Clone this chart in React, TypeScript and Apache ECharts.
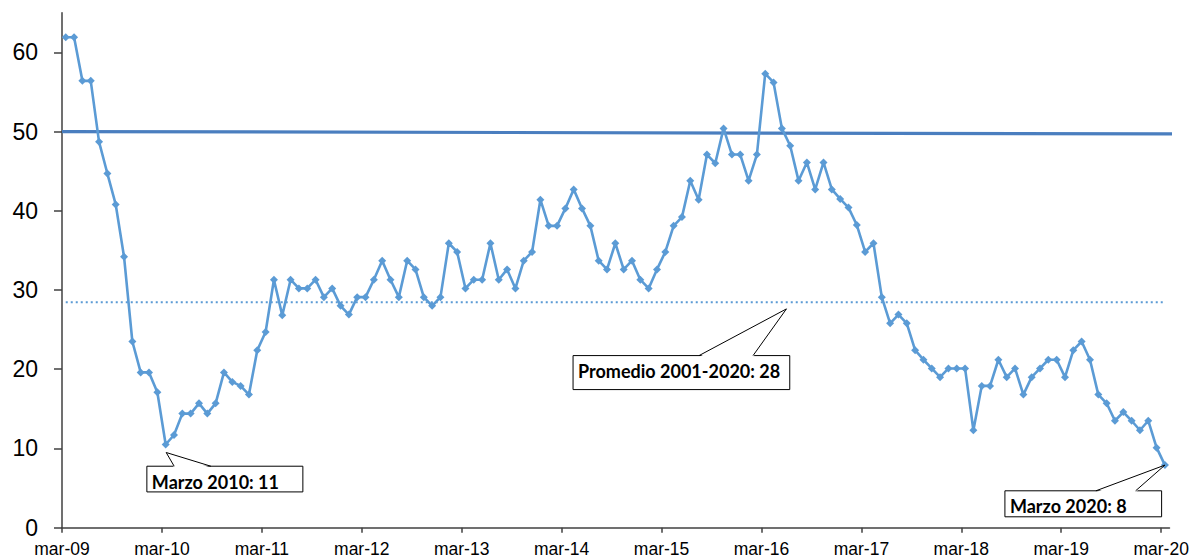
import React, { useEffect, useRef } from 'react';
import * as echarts from 'echarts';

const tickLabels = ['mar-09', 'mar-10', 'mar-11', 'mar-12', 'mar-13', 'mar-14', 'mar-15', 'mar-16', 'mar-17', 'mar-18', 'mar-19', 'mar-20'];

// monthly values, mar-09 .. mar-20
const values = [
  61.9, 61.9, 56.4, 56.4, 48.7, 44.7, 40.8, 34.2, 23.5, 19.6, 19.6, 17.1,
  10.5, 11.7, 14.4, 14.4, 15.7, 14.4, 15.7, 19.6, 18.4, 17.9, 16.8, 22.4,
  24.7, 31.3, 26.8, 31.3, 30.2, 30.2, 31.3, 29.1, 30.2, 28.0, 26.9, 29.1,
  29.1, 31.3, 33.7, 31.3, 29.1, 33.7, 32.6, 29.1, 28.0, 29.1, 35.9, 34.8,
  30.2, 31.3, 31.3, 35.9, 31.3, 32.6, 30.2, 33.7, 34.8, 41.4, 38.1, 38.1,
  40.3, 42.7, 40.3, 38.1, 33.7, 32.6, 35.9, 32.6, 33.7, 31.3, 30.2, 32.6,
  34.8, 38.1, 39.2, 43.8, 41.4, 47.1, 46.0, 50.4, 47.1, 47.1, 43.8, 47.1,
  57.3, 56.2, 50.4, 48.2, 43.8, 46.1, 42.7, 46.1, 42.7, 41.5, 40.4, 38.2,
  34.8, 35.9, 29.1, 25.8, 26.9, 25.8, 22.4, 21.2, 20.1, 19.0, 20.1, 20.1,
  20.1, 12.3, 17.9, 17.9, 21.2, 19.0, 20.1, 16.8, 19.0, 20.1, 21.2, 21.2,
  19.0, 22.4, 23.5, 21.2, 16.8, 15.7, 13.5, 14.6, 13.5, 12.3, 13.5, 10.1,
  7.9,
];

const averageValue = 28.45;
const thresholdValues = [50.0, 49.7];
const yTicks = [0, 10, 20, 30, 40, 50, 60];

const calloutTexts = ['Marzo 2010: 11', 'Promedio 2001-2020: 28', 'Marzo 2020: 8'];
const calloutIndex = [12, 87, 132];

const X_OFFSET = 0.45;

export default function App() {
  const ref = useRef<HTMLDivElement>(null);

  useEffect(() => {
    const chart = echarts.init(ref.current as HTMLDivElement, null, { renderer: 'svg' });
    const months = values.length;
    const categories = Array.from({ length: months + 1 }, (_, i) => (i % 12 === 0 ? tickLabels[i / 12] : ''));
    const axisColor = '#404040';
    const labelFont = '"Liberation Sans", Arial, sans-serif';

    chart.setOption({
      animation: false,
      backgroundColor: '#ffffff',
      grid: { left: 62, right: 29.5, top: 12.7, bottom: 32.3, containLabel: false },
      xAxis: [
        { type: 'value', min: 0, max: months, show: false, position: 'bottom' },
        {
          type: 'category',
          data: categories,
          boundaryGap: false,
          position: 'bottom',
          axisLine: { lineStyle: { color: axisColor, width: 1.5 } },
          axisTick: { interval: 11, length: 5, lineStyle: { color: axisColor, width: 1.5 } },
          axisLabel: {
            interval: 11,
            color: '#000',
            fontFamily: labelFont,
            fontSize: 17.5,
            margin: 12,
          },
          splitLine: { show: false },
        },
      ],
      yAxis: {
        type: 'value',
        min: 0,
        max: 65,
        interval: 10,
        axisLine: { show: true, lineStyle: { color: axisColor, width: 1.5 } },
        axisTick: { show: true, inside: false, length: 8, customValues: yTicks, lineStyle: { color: axisColor, width: 1.5 } },
        axisLabel: {
          customValues: yTicks,
          formatter: (v: number) => (v % 10 === 0 && v <= 60 ? String(v) : ''),
          color: '#000',
          fontFamily: labelFont,
          fontSize: 23,
          margin: 24,
        },
        splitLine: { show: false },
      },
      series: [
        {
          type: 'line',
          xAxisIndex: 0,
          data: [[0, thresholdValues[0]], [months + 0.35, thresholdValues[1]]],
          clip: false,
          symbol: 'none',
          lineStyle: { color: '#4A7EBF', width: 3.2 },
          z: 2,
        },
        {
          type: 'line',
          xAxisIndex: 0,
          data: [[X_OFFSET, averageValue], [months - 1 + X_OFFSET - 0.2, averageValue]],
          symbol: 'none',
          lineStyle: { color: '#5B9BD5', width: 2, type: [2, 3] },
          z: 2,
        },
        {
          type: 'line',
          xAxisIndex: 0,
          data: values.map((v, i) => [i + X_OFFSET, v]),
          symbol: 'diamond',
          symbolSize: 8,
          itemStyle: { color: '#5B9BD5' },
          lineStyle: { color: '#5B9BD5', width: 2.6 },
          z: 3,
        },
      ],
    });

    const px = (x: number, y: number) => chart.convertToPixel({ seriesIndex: 2 }, [x, y]) as number[];

    // layout of the callouts relative to their anchor point (pixels)
    const layouts = [
      { anchor: [calloutIndex[0] + X_OFFSET, values[calloutIndex[0]]], apex: [0.5, 8], box: [-19.3, 13.7, 156, 25.7], legs: [8, 44.7] },
      { anchor: [calloutIndex[1], averageValue], apex: [0, 6.6], box: [-213.4, 46.7, 216.7, 34], legs: [-87.4, -33.4] },
      { anchor: [calloutIndex[2] + X_OFFSET, values[calloutIndex[2]]], apex: [0, 0], box: [-160, 25.7, 156.7, 26], legs: [-69, -29.3] },
    ];

    const elements: any[] = [];
    layouts.forEach((l, k) => {
      const p = px(l.anchor[0], l.anchor[1]);
      const ax = p[0] + l.apex[0];
      const ay = p[1] + l.apex[1];
      const L = ax + l.box[0];
      const T = ay + l.box[1];
      const W = l.box[2];
      const H = l.box[3];
      const l1 = ax + l.legs[0];
      const l2 = ax + l.legs[1];
      elements.push({
        type: 'rect',
        z: 100,
        shape: { x: L, y: T, width: W, height: H },
        style: { fill: '#fff', stroke: '#000', lineWidth: 1 },
      });
      elements.push({
        type: 'polygon',
        z: 101,
        shape: { points: [[l1, T + 1.5], [ax, ay], [l2, T + 1.5]] },
        style: { fill: '#fff', stroke: null },
      });
      elements.push({
        type: 'polyline',
        z: 102,
        shape: { points: [[l1, T], [ax, ay], [l2, T]] },
        style: { stroke: '#000', lineWidth: 1, fill: null },
      });
      elements.push({
        type: 'text',
        z: 103,
        x: L + 5,
        y: T + 15.5,
        style: {
          text: calloutTexts[k],
          font: 'bold 18px Lato, "Open Sans", sans-serif',
          fill: '#000',
          verticalAlign: 'middle',
          align: 'left',
        },
      });
    });
    chart.setOption({ graphic: elements });

    return () => chart.dispose();
  }, []);

  return <div ref={ref} style={{ position: 'absolute', left: 0, top: 0, width: 1199, height: 560 }} />;
}
